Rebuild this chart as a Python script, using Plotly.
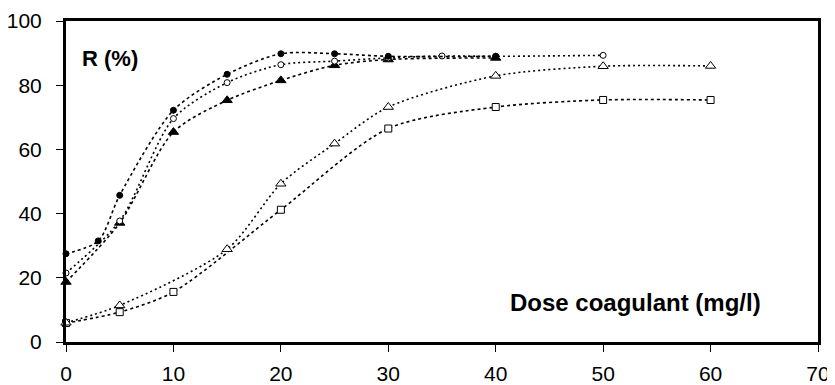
import plotly.graph_objects as go

# Data
dose_fc = [0, 3, 5, 10, 15, 20, 25, 30, 40]
r_fc = [27.5, 31.5, 45.7, 72.2, 83.4, 89.8, 89.8, 89.0, 89.0]

dose_oc = [0, 5, 10, 15, 20, 25, 30, 35, 40, 50]
r_oc = [21.5, 37.7, 69.6, 80.8, 86.4, 87.5, 88.5, 89.1, 89.0, 89.3]

dose_ft = [0, 5, 10, 15, 20, 25, 30, 40]
r_ft = [18.7, 37.1, 65.4, 75.3, 81.5, 86.2, 88.0, 88.5]

dose_ot = [0, 5, 15, 20, 25, 30, 40, 50, 60]
r_ot = [6.0, 11.4, 28.9, 49.3, 61.8, 73.2, 82.9, 85.9, 86.0]

dose_sq = [0, 5, 10, 20, 30, 40, 50, 60]
r_sq = [5.9, 9.3, 15.6, 41.2, 66.5, 73.2, 75.4, 75.4]

x_ticks = [0, 10, 20, 30, 40, 50, 60, 70]
y_ticks = [0, 20, 40, 60, 80, 100]

FONT = "Liberation Sans, Arial, sans-serif"

# page body has an 8px default margin; compensate so the plot area
# lands at x 66..818, y 21..342 in the 835x385 window
OFF = 8
W, H = 835 - OFF, 385 - OFF
L, R, T, B = 66 - OFF, 17, 21 - OFF, 43
pw, ph = W - L - R, H - T - B


def px_to_paper(px, py):
    return (px - OFF - L) / pw, 1 - (py - OFF - T) / ph


fig = go.Figure()

series = [
    (dose_sq, r_sq, "square", "white", 7, "3px,3px"),
    (dose_ot, r_ot, "triangle-up", "white", 9, "2px,3px"),
    (dose_ft, r_ft, "triangle-up", "black", 9, "3px,3px"),
    (dose_oc, r_oc, "circle", "white", 6, "2px,3px"),
    (dose_fc, r_fc, "circle", "black", 6, "3px,3px"),
]
for xs, ys, sym, fill, size, dash in series:
    fig.add_trace(go.Scatter(
        x=xs, y=ys, mode="lines+markers",
        line=dict(color="black", width=1.6, dash=dash, shape="spline", smoothing=0.8),
        marker=dict(symbol=sym, size=size, color=fill, line=dict(color="black", width=1)),
        showlegend=False, cliponaxis=False,
    ))

ax, ay = px_to_paper(80, 58)
fig.add_annotation(x=ax, y=ay, xref="paper", yref="paper", text="<b>R (%)</b>",
                   showarrow=False, xanchor="left", yanchor="middle",
                   font=dict(family=FONT, size=22, color="black"))
ax, ay = px_to_paper(763, 302)
fig.add_annotation(x=ax, y=ay, xref="paper", yref="paper", text="<b>Dose coagulant (mg/l)</b>",
                   showarrow=False, xanchor="right", yanchor="middle",
                   font=dict(family=FONT, size=24, color="black"))

fig.update_xaxes(range=[0, 70], tickvals=x_ticks, ticktext=[str(v) for v in x_ticks],
                 showgrid=False, zeroline=False, showline=True, linecolor="black", linewidth=3,
                 mirror=True, ticks="outside", ticklen=7, tickwidth=1, tickcolor="black",
                 ticklabelstandoff=4, automargin=False,
                 tickfont=dict(family=FONT, size=21, color="black"))
fig.update_yaxes(range=[0, 100], tickvals=y_ticks, ticktext=[str(v) for v in y_ticks],
                 showgrid=False, zeroline=False, showline=True, linecolor="black", linewidth=3,
                 mirror=True, ticks="outside", ticklen=7, tickwidth=1, tickcolor="black",
                 ticklabelstandoff=10, automargin=False,
                 tickfont=dict(family=FONT, size=21, color="black"))

fig.update_layout(width=W, height=H, margin=dict(l=L, r=R, t=T, b=B),
                  plot_bgcolor="white", paper_bgcolor="white")

fig.write_html("out.html")
